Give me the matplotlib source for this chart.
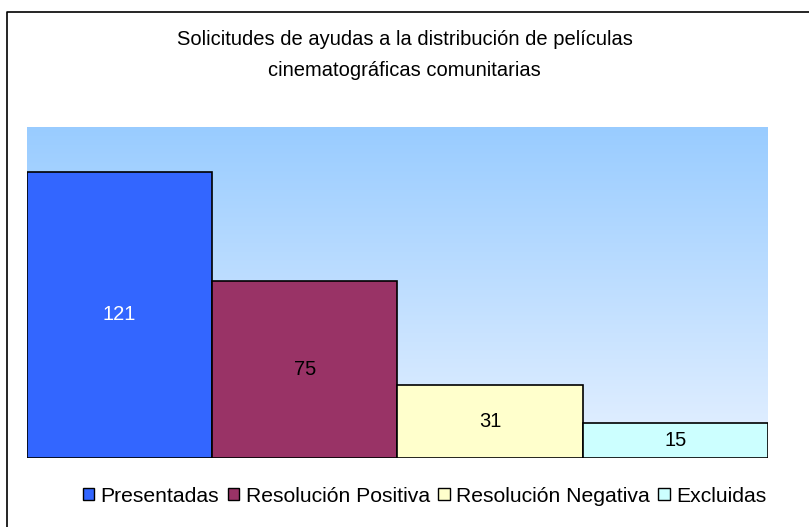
import numpy as np
import matplotlib
matplotlib.use("Agg")
import matplotlib.pyplot as plt
from matplotlib.colors import LinearSegmentedColormap
from matplotlib.lines import Line2D

plt.rcParams["font.family"] = ["Liberation Sans", "DejaVu Sans"]

TITLE = "Solicitudes de ayudas a la distribución de películas\ncinematográficas comunitarias"
categories = ["Presentadas", "Resolución Positiva", "Resolución Negativa", "Excluidas"]
values = [121, 75, 31, 15]
bar_colors = ["#3366FF", "#993366", "#FFFFCC", "#CCFFFF"]
label_colors = ["white", "black", "black", "black"]
Y_MAX = 140

W, H = 809, 527
fig = plt.figure(figsize=(W / 100, H / 100), dpi=100)
fig.patch.set_facecolor("white")

ax = fig.add_axes([27 / W, 1 - 458 / H, (768 - 27) / W, (458 - 127) / H])

# vertical gradient background behind the bars
grad_cmap = LinearSegmentedColormap.from_list("bg", ["#E6F1FF", "#99CCFF"])
grad = np.linspace(0, 1, 256).reshape(-1, 1)
ax.imshow(grad, cmap=grad_cmap, origin="lower", aspect="auto",
          extent=(-0.5, len(values) - 0.5, 0, Y_MAX), zorder=0)

x = np.arange(len(values))
bars = ax.bar(x, values, width=1.0, color=bar_colors, edgecolor="black",
              linewidth=1.2, zorder=2)
for b, v, c in zip(bars, values, label_colors):
    ax.text(b.get_x() + b.get_width() / 2, v / 2, str(v), ha="center", va="center",
            fontsize=14.5, color=c, zorder=3)

ax.set_xlim(-0.5, len(values) - 0.5)
ax.set_ylim(0, Y_MAX)
ax.set_xticks([])
ax.set_yticks([])
for s in ax.spines.values():
    s.set_visible(False)

fig.text(0.5, 1 - 55 / H, TITLE, ha="center", va="center", fontsize=14.5,
         linespacing=1.75)

leg = fig.legend(bars, categories, loc="center", bbox_to_anchor=(0.5 + 20 / W, 1 - 496 / H),
                 ncol=4, frameon=False, fontsize=15.2, handlelength=0.55, handleheight=0.55,
                 handletextpad=0.3, columnspacing=0.4)
for h in leg.legend_handles:
    h.set_linewidth(1.0)

# partial frame around the chart (left and top edges)
fig.add_artist(Line2D([7 / W, 7 / W, 1.0], [0.0, 1 - 12 / H, 1 - 12 / H],
                      transform=fig.transFigure, color="black", linewidth=1.2))

fig.savefig("out.png", dpi=100)
